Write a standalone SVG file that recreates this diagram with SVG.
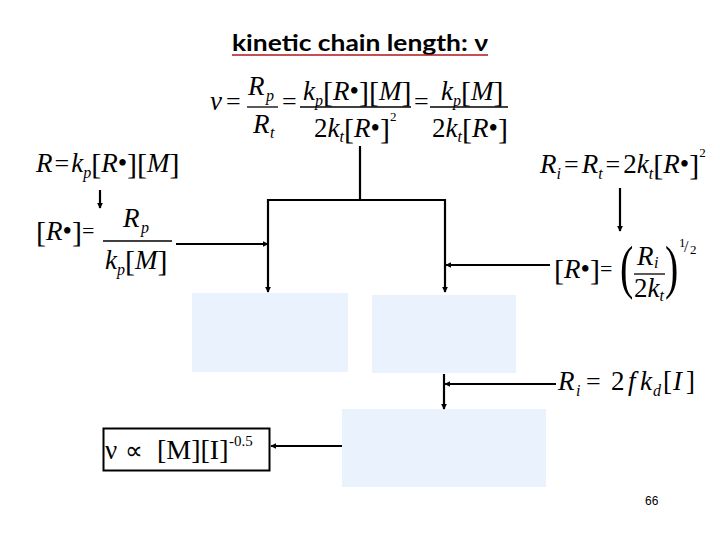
<svg xmlns="http://www.w3.org/2000/svg" width="720" height="540" viewBox="0 0 720 540">
<style>
text{font-family:"Liberation Serif","Times New Roman",serif;fill:#000}
.m{font-style:italic;font-size:27px}
.r{font-style:normal}
.s{font-size:16px;font-style:italic}
.b{font-style:normal;font-size:30px}
.e{font-style:normal;font-size:26px}
.fl{stroke:#000;stroke-width:1.3}
.box{fill:#EAF3FD;stroke:none}
.c{stroke:#000;stroke-width:2.2;fill:none}
.a{marker-end:url(#ah)}
</style>
<defs>
<marker id="ah" viewBox="0 0 8 8" refX="7" refY="4" markerWidth="2.6" markerHeight="2.6" orient="auto" markerUnits="strokeWidth">
<path d="M0,0 L8,4 L0,8 Z" fill="#000"/>
</marker>
</defs>
<rect width="720" height="540" fill="#fff"/>

<g id="title">
<text x="232" y="51" font-weight="bold" font-size="22" fill="#B0141C" textLength="256" lengthAdjust="spacingAndGlyphs" style="font-family:Lato,'Liberation Sans',sans-serif">kinetic chain length: ν</text>
<line x1="232" y1="55" x2="488" y2="55" stroke="#B0141C" stroke-width="1.6"/>
</g>

<g id="eq-nu">
<text class="m" x="210" y="110">ν</text>
<text class="e" x="226" y="110">=</text>
<text class="m" x="248" y="95">R</text><text class="s" x="266" y="101">p</text>
<line class="fl" x1="247" y1="107" x2="278" y2="107"/>
<text class="m" x="253" y="133">R</text><text class="s" x="270" y="138">t</text>
<text class="e" x="282" y="110">=</text>
<text class="m" x="303" y="100">k<tspan class="s" y="106">p</tspan><tspan class="b" y="102">[</tspan><tspan y="100">R</tspan><tspan class="r">•</tspan><tspan class="b" y="102">][</tspan><tspan y="100">M</tspan><tspan class="b" y="102">]</tspan></text>
<line class="fl" x1="300" y1="107" x2="411" y2="107"/>
<text class="m" x="314" y="137"><tspan class="r">2</tspan>k<tspan class="s" y="142">t</tspan><tspan class="b" y="139">[</tspan><tspan y="137">R</tspan><tspan class="r">•</tspan><tspan class="b" y="139">]</tspan><tspan class="r" font-size="13" y="121">2</tspan></text>
<text class="e" x="414" y="110">=</text>
<text class="m" x="441" y="100">k<tspan class="s" y="106">p</tspan><tspan class="b" y="102">[</tspan><tspan y="100">M</tspan><tspan class="b" y="102">]</tspan></text>
<line class="fl" x1="430" y1="107" x2="508" y2="107"/>
<text class="m" x="432" y="137"><tspan class="r">2</tspan>k<tspan class="s" y="142">t</tspan><tspan class="b" y="139">[</tspan><tspan y="137">R</tspan><tspan class="r">•</tspan><tspan class="b" y="139">]</tspan></text>
</g>

<g id="eq-rp">
<text class="m" x="36" y="172">R<tspan class="e" dx="2">=</tspan><tspan dx="2">k</tspan><tspan class="s" y="178">p</tspan><tspan class="b" y="174">[</tspan><tspan y="172">R</tspan><tspan class="r">•</tspan><tspan class="b" y="174">][</tspan><tspan y="172">M</tspan><tspan class="b" y="174">]</tspan></text>
</g>

<g id="eq-rdot-left">
<text class="m" x="36" y="240"><tspan class="b" y="242">[</tspan><tspan y="240">R</tspan><tspan class="r">•</tspan><tspan class="b" y="242">]</tspan><tspan class="r" font-size="22" y="238">=</tspan></text>
<text class="m" x="123" y="227">R</text><text class="s" x="141" y="233">p</text>
<line class="fl" x1="103" y1="241" x2="172" y2="241"/>
<text class="m" x="105" y="269">k<tspan class="s" y="275">p</tspan><tspan class="b" y="271">[</tspan><tspan y="269">M</tspan><tspan class="b" y="271">]</tspan></text>
</g>

<g id="eq-ri-rt">
<text class="m" x="540" y="173">R<tspan class="s" y="179">i</tspan><tspan class="e" dx="3" y="173">=</tspan><tspan dx="3">R</tspan><tspan class="s" y="179">t</tspan><tspan class="e" dx="3" y="173">=</tspan><tspan class="r" dx="3">2</tspan>k<tspan class="s" y="179">t</tspan><tspan class="b" y="175">[</tspan><tspan y="173">R</tspan><tspan class="r">•</tspan><tspan class="b" y="175">]</tspan><tspan class="r" font-size="13" y="157">2</tspan></text>
</g>

<g id="eq-rdot-right">
<text class="m" x="554" y="278"><tspan class="b" y="280">[</tspan><tspan y="278">R</tspan><tspan class="r">•</tspan><tspan class="b" y="280">]</tspan><tspan class="r" font-size="22" y="276">=</tspan></text>
<text class="r" font-size="40" transform="translate(620,287) scale(1,1.5)">(</text>
<text class="m" x="637" y="265">R</text><text class="s" x="654" y="268">i</text>
<line class="fl" x1="634" y1="274" x2="665" y2="274"/>
<text class="m" x="634" y="297"><tspan class="r">2</tspan>k<tspan class="s" y="301">t</tspan></text>
<text class="r" font-size="40" transform="translate(665,287) scale(1,1.5)">)</text>
<text class="r" font-size="13"><tspan x="679" y="247">1</tspan><tspan font-size="16" x="684" y="252">/</tspan><tspan x="690" y="254">2</tspan></text>
</g>

<g id="eq-ri-init">
<text class="m" y="390"><tspan x="558">R</tspan><tspan class="s" x="576" y="396">i</tspan><tspan class="e" x="586" y="390">=</tspan><tspan class="r" x="611">2</tspan><tspan x="628">f</tspan><tspan x="640">k</tspan><tspan class="s" x="653" y="396">d</tspan><tspan class="r" x="663" y="390">[</tspan><tspan x="673">I</tspan><tspan class="r" x="686">]</tspan></text>
</g>

<g id="box-left"><rect class="box" x="192" y="293" width="156" height="79"/></g>
<g id="box-right"><rect class="box" x="372" y="295" width="144" height="78"/></g>
<g id="box-bottom"><rect class="box" x="342" y="409" width="204" height="78"/></g>

<g id="result">
<rect x="103.5" y="428.5" width="166" height="42" fill="#fff" stroke="#000" stroke-width="2"/>
<text font-size="27" y="459"><tspan x="105">ν</tspan><tspan x="125" font-size="25">∝</tspan><tspan x="157" font-size="28">[M][I]</tspan><tspan x="229" y="446" font-size="15">-0.5</tspan></text>
</g>

<g id="connectors">
<line class="c a" x1="100" y1="190" x2="100" y2="208"/>
<line class="c a" x1="176" y1="244" x2="268" y2="244"/>
<line class="c" x1="360" y1="146" x2="360" y2="200"/>
<line class="c" x1="268" y1="200" x2="446" y2="200"/>
<line class="c a" x1="268" y1="199" x2="268" y2="292"/>
<line class="c a" x1="445" y1="199" x2="445" y2="292"/>
<line class="c a" x1="620" y1="188" x2="620" y2="231"/>
<line class="c a" x1="550" y1="265" x2="446" y2="265"/>
<line class="c a" x1="444" y1="374" x2="444" y2="409"/>
<line class="c a" x1="556" y1="384" x2="445" y2="384"/>
<line class="c a" x1="342" y1="446" x2="271" y2="446"/>
</g>

<text x="645" y="505" style="font-family:'Liberation Sans',Arial,sans-serif" font-size="12" fill="#333">66</text>
</svg>
